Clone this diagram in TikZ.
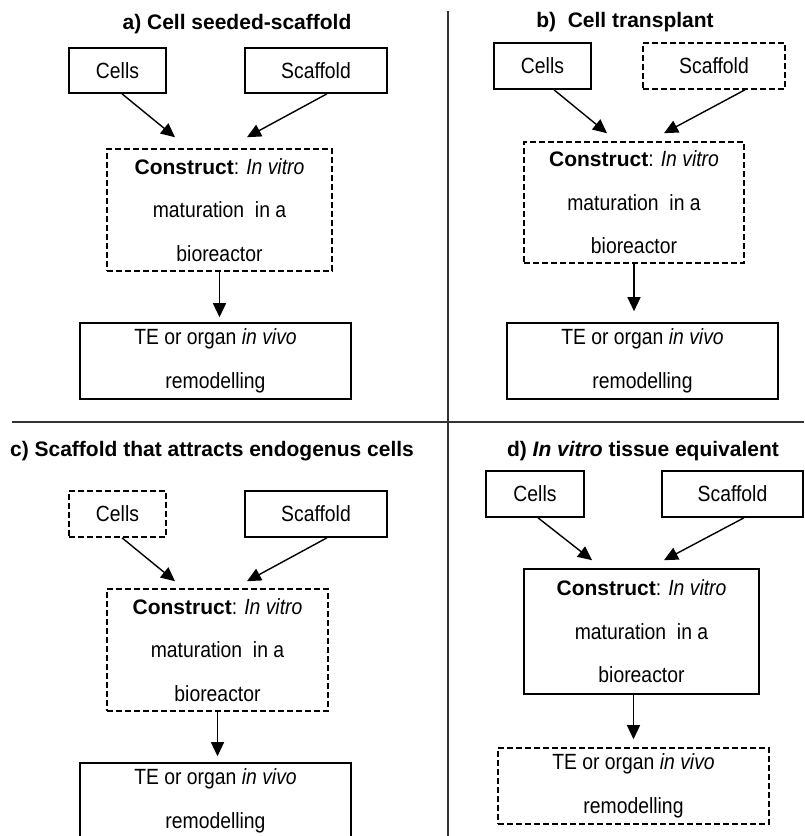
\documentclass[tikz,border=0pt]{standalone}
\usepackage{fontspec}
\setmainfont{Liberation Sans}
\newfontfamily\boxfont{Liberation Sans}[FakeStretch=0.88]
\usetikzlibrary{arrows.meta,calc}
\newcommand{\cbold}[1]{{\normalfont\bfseries\fontsize{21}{43.5}\selectfont #1}}
\begin{document}
\begin{tikzpicture}[x=1pt,y=-1pt,
  box/.style={draw, line width=1.6pt, inner sep=0pt, align=center, font=\boxfont\fontsize{22}{43.5}\selectfont},
  dbox/.style={box, dash pattern=on 6pt off 3pt},
  arr/.style={-{Triangle[length=14pt,width=13pt]}, line width=1.4pt},
  ttl/.style={font=\bfseries\fontsize{21}{24}\selectfont, inner sep=0pt},
  sep/.style={line width=2pt, draw=black!80}]
\useasboundingbox (0,0) rectangle (804,836);
\clip (0,0) rectangle (804,836);
\fill[white] (0,0) rectangle (804,836);

% separators
\draw[sep] (448,11) -- (448,836);
\draw[sep] (12,422) -- (804,422);

% ---- a)
\node[ttl] (titleA) at (237,24) {a) Cell seeded-scaffold};
\node[box, minimum width=97pt, minimum height=45pt] (cellsA) at (117.5,70.5) {Cells};
\node[box, minimum width=142pt, minimum height=45pt] (scafA) at (316,70.5) {Scaffold};
\node[dbox, minimum width=225pt, minimum height=122pt] (consA) at (219.5,210) {\cbold{Construct}: \textit{In vitro}\\ maturation\ \ in a\\ bioreactor};
\node[box, minimum width=271pt, minimum height=76pt] (teA) at (215.5,361) {TE or organ \textit{in vivo}\\ remodelling};
\draw[arr] ([xshift=4.5pt]cellsA.south) -- ([xshift=-44.5pt,yshift=11pt]consA.north);
\draw[arr] ([xshift=11pt]scafA.south) -- ([xshift=27.5pt,yshift=11pt]consA.north);
\draw[arr, shorten >=5pt] (consA.south) -- (consA.south |- teA.north);

% ---- b)
\node[ttl] (titleB) at (625,22) {b)\ \ Cell transplant};
\node[box, minimum width=97pt, minimum height=46pt] (cellsB) at (542.5,66) {Cells};
\node[dbox, minimum width=142pt, minimum height=46pt] (scafB) at (714,66) {Scaffold};
\node[dbox, minimum width=220pt, minimum height=121pt] (consB) at (634,202.5) {\cbold{Construct}: \textit{In vitro}\\ maturation\ \ in a\\ bioreactor};
\node[box, minimum width=271pt, minimum height=76pt] (teB) at (642.5,361) {TE or organ \textit{in vivo}\\ remodelling};
\draw[arr] ([xshift=11.5pt]cellsB.south) -- ([xshift=-27pt,yshift=8pt]consB.north);
\draw[arr] ([xshift=31pt]scafB.south) -- ([xshift=30pt,yshift=8pt]consB.north);
\draw[arr, shorten >=11pt] (consB.south) -- (consB.south |- teB.north);

% ---- c)
\node[ttl] (titleC) at (212,451) {c) Scaffold that attracts endogenus cells};
\node[dbox, minimum width=97pt, minimum height=46pt] (cellsC) at (117.5,514) {Cells};
\node[box, minimum width=142pt, minimum height=46pt] (scafC) at (316,514) {Scaffold};
\node[dbox, minimum width=221pt, minimum height=122pt] (consC) at (217.5,650) {\cbold{Construct}: \textit{In vitro}\\ maturation\ \ in a\\ bioreactor};
\node[box, minimum width=271pt, minimum height=76pt] (teC) at (215.5,801) {TE or organ \textit{in vivo}\\ remodelling};
\draw[arr] ([xshift=4.5pt]cellsC.south) -- ([xshift=-42.5pt,yshift=7pt]consC.north);
\draw[arr] ([xshift=11pt]scafC.south) -- ([xshift=29.5pt,yshift=7pt]consC.north);
\draw[arr, shorten >=6pt] (consC.south) -- (consC.south |- teC.north);

% ---- d)
\node[ttl] (titleD) at (643,451) {d) \textit{In vitro} tissue equivalent};
\node[box, minimum width=98pt, minimum height=46pt] (cellsD) at (535,494) {Cells};
\node[box, minimum width=141pt, minimum height=46pt] (scafD) at (732.5,494) {Scaffold};
\node[box, minimum width=235pt, minimum height=125pt] (consD) at (641.5,631.5) {\cbold{Construct}: \textit{In vitro}\\ maturation\ \ in a\\ bioreactor};
\node[dbox, minimum width=271pt, minimum height=76pt] (teD) at (633.5,786) {TE or organ \textit{in vivo}\\ remodelling};
\draw[arr] ([xshift=3pt]cellsD.south) -- ([xshift=-49.5pt,yshift=8pt]consD.north);
\draw[arr] ([xshift=11.5pt]scafD.south) -- ([xshift=22.5pt,yshift=8pt]consD.north);
\draw[arr, shorten >=8pt] (teD.north |- consD.south) -- (teD.north);
\end{tikzpicture}
\end{document}
